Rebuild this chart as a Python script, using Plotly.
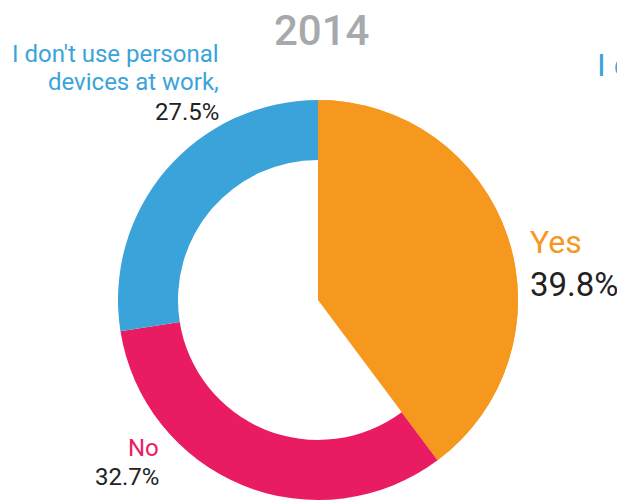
import plotly.graph_objects as go

W, H = 625, 503
OFF = 8  # page body margin

labels = ["Yes", "No", "I don't use personal devices at work,"]
values = [39.8, 32.7, 27.5]
colors = ["#F7981E", "#E91C63", "#3AA4DA"]
title = "2014"


def px(x):
    return (x - OFF) / W


def py(y):
    return 1 - (y - OFF) / H


domain = dict(x=[px(118), px(518)], y=[py(500), py(100)])

fig = go.Figure()

# ring for all slices
fig.add_trace(go.Pie(
    labels=labels, values=values, sort=False, direction="clockwise", rotation=0,
    hole=0.70, domain=domain,
    marker=dict(colors=colors, line=dict(width=0)),
    textinfo="none", hoverinfo="label+percent", showlegend=False,
))

# the "Yes" slice fills all the way to the centre
fig.add_trace(go.Pie(
    labels=labels, values=values, sort=False, direction="clockwise", rotation=0,
    hole=0, domain=domain,
    marker=dict(colors=[colors[0], "rgba(0,0,0,0)", "rgba(0,0,0,0)"], line=dict(width=0)),
    textinfo="none", hoverinfo="skip", showlegend=False,
))


def note(text, x, y, size, color, anchor="left", weight=400):
    fig.add_annotation(
        text=text, x=px(x), y=py(y), xref="paper", yref="paper",
        xanchor=anchor, yanchor="middle", showarrow=False,
        font=dict(family="Roboto", size=size, color=color, weight=weight),
    )


note(title, 321, 30, 42, "#A7A9AC", "center", 500)

note("I don't use personal", 221, 54, 24, colors[2], "right")
note("devices at work,", 221, 82, 24, colors[2], "right")
note(f"{values[2]}%", 221, 112, 24, "#222222", "right")

note("No", 161, 448, 24, colors[1], "right")
note(f"{values[1]}%", 161, 477, 24, "#222222", "right")

note("Yes", 528, 242, 32, colors[0], "left")
note(f"{values[0]}%", 528, 284, 33, "#222222", "left")

# label of the neighbouring chart, cut off by the edge
note("I don't use personal", 595, 65, 32, colors[2], "left")

fig.update_layout(
    width=W, height=H,
    margin=dict(l=0, r=0, t=0, b=0),
    paper_bgcolor="white", plot_bgcolor="white",
)

fig.write_html("out.html")
